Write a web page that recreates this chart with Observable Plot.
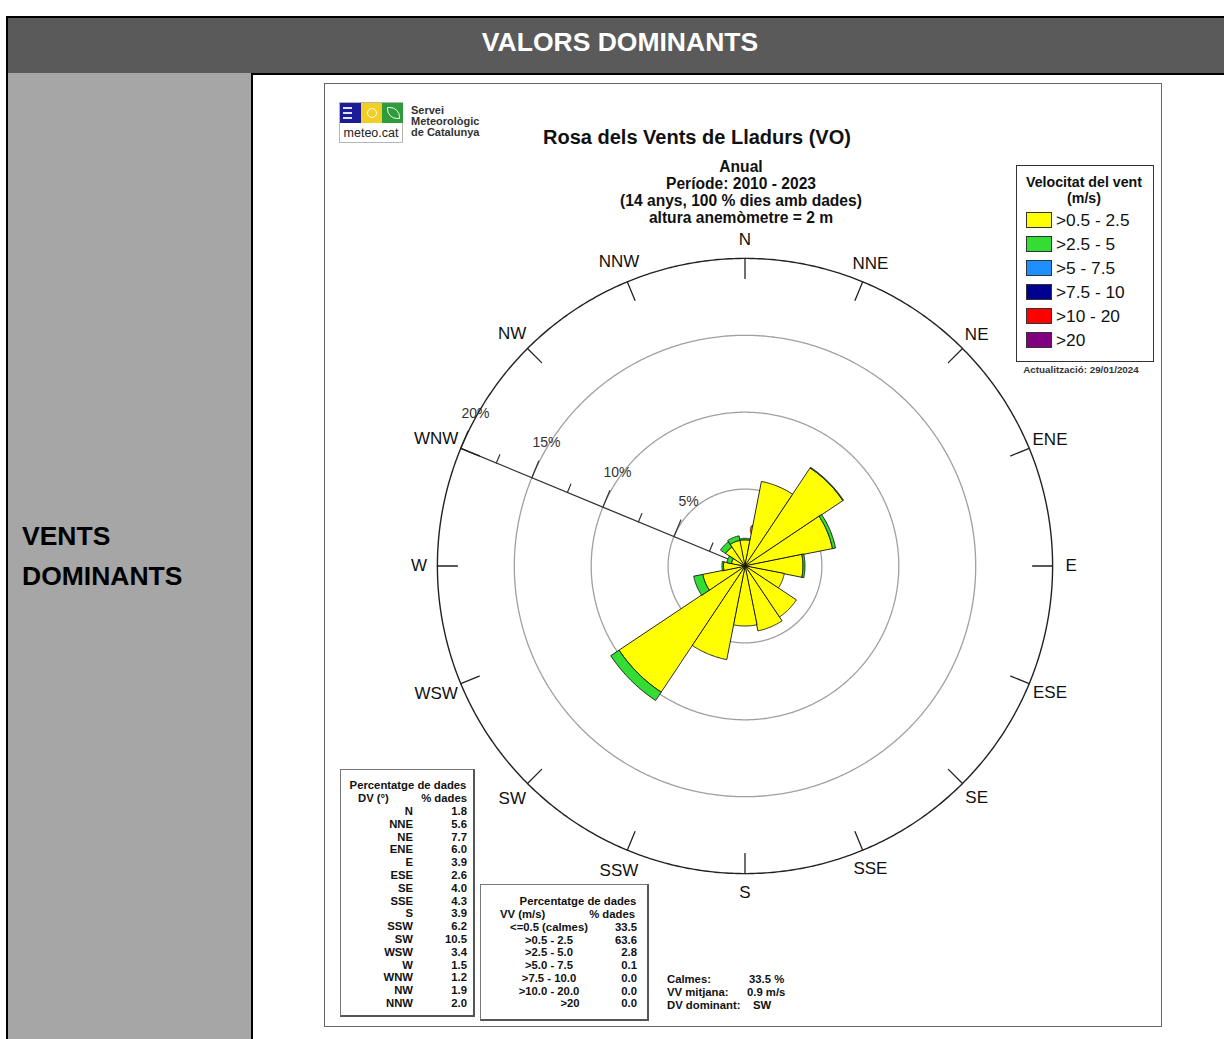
<!DOCTYPE html>
<html>
<head>
<meta charset="utf-8">
<script src="https://cdn.jsdelivr.net/npm/d3@7"></script>
<script src="https://cdn.jsdelivr.net/npm/@observablehq/plot@0.6"></script>
<style>
  html, body { margin: 0; padding: 0; background: #fff; }
  body { width: 1224px; height: 1039px; overflow: hidden; position: relative;
         font-family: "Liberation Sans", Arial, Helvetica, sans-serif; }
  .abs { position: absolute; }
  .c { position: absolute; transform: translate(-50%, -50%); white-space: nowrap; }
  .l { position: absolute; transform: translateY(-50%); white-space: nowrap; }
  .r { position: absolute; transform: translate(-100%, -50%); white-space: nowrap; }
  .b { font-weight: bold; }
  .tb { font-weight: bold; font-size: 11.3px; color: #111; }
</style>
</head>
<body>
<script>
// ---------------- DATA ----------------
const dirs = ["N","NNE","NE","ENE","E","ESE","SE","SSE","S","SSW","SW","WSW","W","WNW","NW","NNW"];
const dirPct = [1.8, 5.6, 7.7, 6.0, 3.9, 2.6, 4.0, 4.3, 3.9, 6.2, 10.5, 3.4, 1.5, 1.2, 1.9, 2.0];
// per-direction share of each speed class (% of all data)
const yellowPct = [1.7, 5.6, 7.65, 5.8, 3.77, 2.6, 4.0, 4.3, 3.9, 6.2, 9.85, 2.8, 1.4, 0.9, 1.5, 1.7];
const greenPct  = [0.1, 0,   0.05, 0.2, 0.13, 0,   0,   0,   0,   0,   0.65, 0.6, 0.1, 0.3, 0.4, 0.3];
const speedClasses = [">0.5 - 2.5", ">2.5 - 5", ">5 - 7.5", ">7.5 - 10", ">10 - 20", ">20"];
const speedColors = ["#ffff00", "#33dd33", "#1e8fff", "#000090", "#ff0000", "#800080"];
const speedLabels = ["<=0.5 (calmes)", ">0.5 - 2.5", ">2.5 - 5.0", ">5.0 - 7.5", ">7.5 - 10.0", ">10.0 - 20.0", ">20"];
const speedPct = ["33.5", "63.6", "2.8", "0.1", "0.0", "0.0", "0.0"];
const dirPctText = ["1.8","5.6","7.7","6.0","3.9","2.6","4.0","4.3","3.9","6.2","10.5","3.4","1.5","1.2","1.9","2.0"];
const ringValues = [5, 10, 15];
const outerValue = 20;
const majorTicks = [5, 10, 15, 20];
const minorTicks = [2.5, 7.5, 12.5, 17.5];
const axisLabels = [0, 5, 10, 15, 20];
const axisDir = 292.5; // WNW
const summaryLabels = ["Calmes:", "VV mitjana:", "DV dominant:"];
const summaryValues = ["33.5 %", "0.9 m/s", "SW"];

// ---------------- LAYOUT (HTML) ----------------
function el(cls, x, y, text, style) {
  const d = document.createElement("div");
  d.className = cls;
  d.style.left = x + "px"; d.style.top = y + "px";
  if (style) d.style.cssText += style;
  d.textContent = text;
  document.body.appendChild(d);
  return d;
}
function box(x, y, w, h, style) {
  const d = document.createElement("div");
  d.className = "abs";
  d.style.cssText = `left:${x}px;top:${y}px;width:${w}px;height:${h}px;box-sizing:border-box;` + (style || "");
  document.body.appendChild(d);
  return d;
}

// table structure
box(6, 16, 1240, 59, "background:#5a5a5a;border:2px solid #000;border-right:none;");
el("c b", 620, 42, "VALORS DOMINANTS", "color:#fff;font-size:26.5px;");
box(6, 73, 247, 1000, "background:#a6a6a6;border-left:2px solid #000;border-right:2px solid #000;");
el("abs b", 22, 516, "VENTS\nDOMINANTS", "font-size:26.5px;line-height:40px;white-space:pre;color:#000;");

// chart frame
box(324, 83, 838, 944, "border:1px solid #666;background:#fff;");

// ---------------- PLOT ----------------
const R = 25; // projection domain radius (in %)
const toLon = a => 180 - a;
const segs = dirs.flatMap((d, i) => {
  const a = i * 22.5;
  const out = [{dir: d, angle: a, r0: 0, r1: yellowPct[i], cls: speedClasses[0]}];
  if (greenPct[i] > 0) out.push({dir: d, angle: a, r0: yellowPct[i], r1: yellowPct[i] + greenPct[i], cls: speedClasses[1]});
  return out;
});
function wedge(s) {
  const ring = [];
  const a0 = s.angle - 11.25, a1 = s.angle + 11.25;
  const r0 = Math.max(s.r0, 0.002);
  for (let k = 0; k <= 30; k++) ring.push([toLon(a0 + (a1 - a0) * k / 30), 90 - s.r1]);
  for (let k = 30; k >= 0; k--) ring.push([toLon(a0 + (a1 - a0) * k / 30), 90 - r0]);
  ring.push(ring[0].slice());
  const g = {type: "Polygon", coordinates: [ring]};
  if (d3.geoArea(g) > 2 * Math.PI) ring.reverse();
  return g;
}
const circle = r => d3.geoCircle().center([0, 90]).radius(r).precision(0.5)();
const tickShape = {draw(context, l) { context.moveTo(0, 0); context.lineTo(0, -l); }};
// wide labels near E/W sit slightly further out
const labelR = (d, i) => 21.2 + 0.18 * (d.length - 1) * Math.abs(Math.sin(i * 22.5 * Math.PI / 180)) * (Math.sin(i * 22.5 * Math.PI / 180) < 0 ? 1.6 : 0.8);

const plot = Plot.plot({
  width: 769, height: 769, margin: 0,
  style: {background: "transparent", fontFamily: "'Liberation Sans', Arial, sans-serif"},
  projection: {type: "azimuthal-equidistant", rotate: [0, -90], domain: circle(R)},
  color: {domain: speedClasses, range: speedColors},
  marks: [
    Plot.geo(ringValues, {geometry: r => circle(r), stroke: "#a0a0a0", strokeWidth: 1.3, fill: "none"}),
    Plot.geo([axisDir], {geometry: a => ({type: "LineString", coordinates: [[toLon(a), 90], [toLon(a), 90 - outerValue]]}), stroke: "#333", strokeWidth: 1.3}),
    Plot.vector(majorTicks, {x: () => toLon(axisDir), y: r => 90 - r, length: 18, rotate: axisDir + 90, anchor: "start", shape: tickShape, stroke: "#333", strokeWidth: 1.2}),
    Plot.vector(minorTicks, {x: () => toLon(axisDir), y: r => 90 - r, length: 9, rotate: axisDir + 90, anchor: "start", shape: tickShape, stroke: "#333", strokeWidth: 1.2}),
    Plot.text(axisLabels, {x: () => toLon(axisDir), y: r => 90 - r, text: r => r + "%", dx: 14.6, dy: -35, fontSize: 14, fill: "#333"}),
    Plot.geo(segs, {geometry: wedge, fill: "cls", stroke: "#111", strokeWidth: 0.9}),
    Plot.geo([outerValue], {geometry: r => circle(r), stroke: "#222", strokeWidth: 1.4, fill: "none"}),
    Plot.geo(dirs, {geometry: (d, i) => ({type: "LineString", coordinates: [[toLon(i * 22.5), 90 - outerValue], [toLon(i * 22.5), 90 - outerValue + 1.3]]}), stroke: "#222", strokeWidth: 1.3}),
    Plot.text(dirs, {x: (d, i) => toLon(i * 22.5), y: (d, i) => 90 - labelR(d, i), text: d => d, fontSize: 17, fill: "#111"})
  ]
});
const holder = document.createElement("div");
holder.className = "abs";
holder.style.cssText = "left:360px;top:181px;width:769px;height:769px;";
holder.appendChild(plot);
document.body.appendChild(holder);

// ---------------- TEXT OVER THE CHART ----------------
// logo
const logo = box(339, 102, 64, 41, "border:1px solid #b5b5b5;background:#fff;");
logo.innerHTML = `
  <div class="abs" style="left:0;top:0;width:21px;height:20px;background:#1c1c96;">
    <div class="abs" style="left:3px;top:4px;width:9px;height:2px;background:#dfe3ff"></div>
    <div class="abs" style="left:3px;top:9px;width:9px;height:2px;background:#dfe3ff"></div>
    <div class="abs" style="left:3px;top:14px;width:9px;height:2px;background:#dfe3ff"></div>
  </div>
  <div class="abs" style="left:21px;top:0;width:21px;height:20px;background:#f2cf24;">
    <div class="abs" style="left:6px;top:5px;width:8px;height:8px;border:1.5px solid #fff;border-radius:50%;"></div>
  </div>
  <div class="abs" style="left:42px;top:0;width:21px;height:20px;background:#2f9c3c;">
    <div class="abs" style="left:5px;top:4px;width:11px;height:10px;border:1.5px solid #e8ffe8;border-radius:0 10px 0 10px;"></div>
  </div>
  <div class="c" style="left:31px;top:30px;font-size:12.5px;color:#222;">meteo.cat</div>`;
el("abs b", 411, 105, "Servei\nMeteorològic\nde Catalunya", "font-size:11px;line-height:11px;white-space:pre;color:#333;");

// titles
el("c b", 697, 137, "Rosa dels Vents de Lladurs (VO)", "font-size:20px;color:#111;");
["Anual", "Període: 2010 - 2023", "(14 anys, 100 % dies amb dades)", "altura anemòmetre = 2 m"]
  .forEach((t, i) => el("c b", 741, 167 + i * 17, t, "font-size:15.6px;color:#111;"));

// legend
box(1016, 165, 138, 197, "border:1px solid #333;background:#fff;");
el("c b", 1084, 182, "Velocitat del vent", "font-size:14.2px;color:#111;");
el("c b", 1084, 198, "(m/s)", "font-size:14.2px;color:#111;");
speedClasses.forEach((s, i) => {
  box(1026, 212 + i * 24, 26, 16, `background:${speedColors[i]};border:1px solid #333;`);
  el("l", 1056, 220 + i * 24, s, "font-size:17.3px;color:#111;");
});
el("c b", 1081, 369, "Actualització: 29/01/2024", "font-size:9.8px;color:#333;");

// direction percentage table
box(340, 769, 135, 248, "border:1px solid #777;border-right:2px solid #555;border-bottom:2px solid #555;background:#fff;");
el("c tb", 408, 785, "Percentatge de dades");
el("l tb", 358, 798, "DV (°)");
el("r tb", 467, 798, "% dades");
dirs.forEach((d, i) => {
  el("r tb", 413, 811 + i * 12.8, d);
  el("r tb", 467, 811 + i * 12.8, dirPctText[i]);
});

// speed percentage table
box(480, 884, 169, 137, "border:1px solid #777;border-right:2px solid #555;border-bottom:2px solid #555;background:#fff;");
el("c tb", 578, 901, "Percentatge de dades");
el("l tb", 500, 914, "VV (m/s)");
el("r tb", 635, 914, "% dades");
speedLabels.forEach((s, i) => {
  el("c tb", i === 6 ? 570 : 549, 927 + i * 12.7, s);
  el("r tb", 637, 927 + i * 12.7, speedPct[i]);
});

// summary
summaryLabels.forEach((s, i) => {
  el("l tb", 667, 979 + i * 13, s);
  el("l tb", [749, 747, 753][i], 979 + i * 13, summaryValues[i]);
});
</script>
</body>
</html>
